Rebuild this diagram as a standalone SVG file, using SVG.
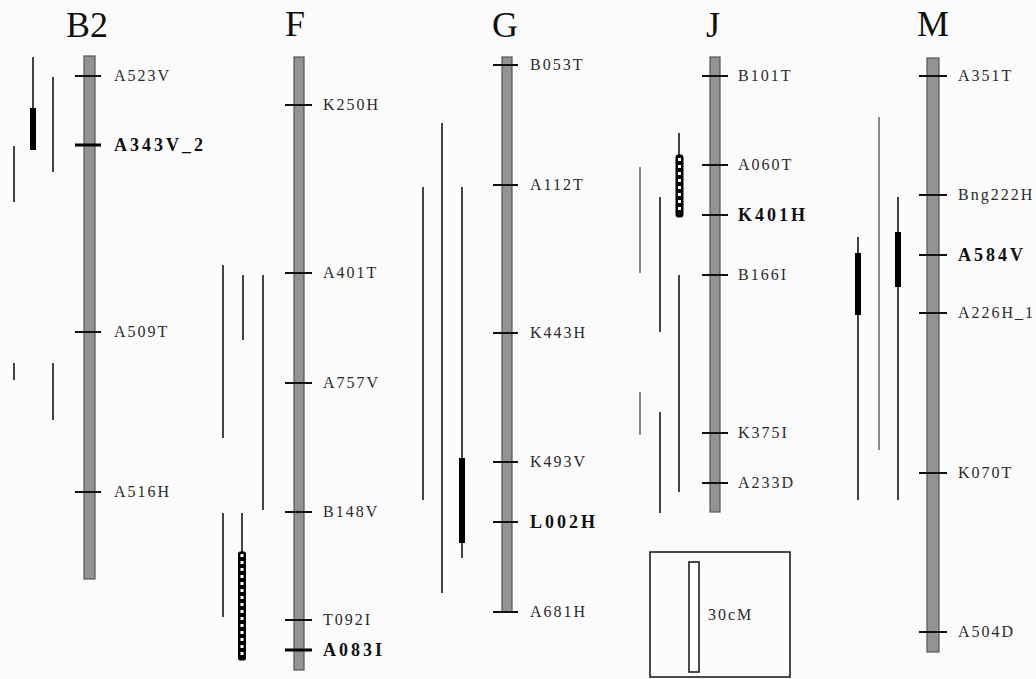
<svg xmlns="http://www.w3.org/2000/svg" width="1036" height="679" viewBox="0 0 1036 679">
<style>
.bg{fill:#fbfbfb}
.title{font-family:"Liberation Serif",serif;font-size:36px;fill:#111;text-anchor:middle}
.lab{font-family:"Liberation Serif",serif;font-size:16px;fill:#2a2a2a;letter-spacing:2px}
.bold{font-family:"Liberation Serif",serif;font-size:18px;font-weight:bold;fill:#111;letter-spacing:3px}
.bar{fill:#939393;stroke:#555;stroke-width:1.2}
.tick{stroke:#111;stroke-width:2}
.tickb{stroke:#000;stroke-width:3}
.qtl{stroke:#444;stroke-width:2;fill:none}
.qtll{stroke:#888;stroke-width:2;fill:none}
.thick{stroke:#000;stroke-width:6;fill:none}
.chk{fill:#000;stroke:#000;stroke-width:1}
.chkd{stroke:#fff;stroke-width:3;stroke-dasharray:3 4;fill:none}
</style>
<rect class="bg" x="0" y="0" width="1036" height="679"/>

<g id="chrB2">
<text class="title" x="87" y="37">B2</text>
<rect class="bar" x="84" y="56" width="11" height="523"/>
<line class="tick" x1="75" y1="76" x2="101" y2="76"/>
<line class="tickb" x1="75" y1="145" x2="101" y2="145"/>
<line class="tick" x1="75" y1="332" x2="101" y2="332"/>
<line class="tick" x1="75" y1="492" x2="101" y2="492"/>
<text class="lab" x="114" y="81">A523V</text>
<text class="bold" x="114" y="151">A343V_2</text>
<text class="lab" x="114" y="337">A509T</text>
<text class="lab" x="114" y="497">A516H</text>
</g>

<g id="chrF">
<text class="title" x="295" y="36">F</text>
<rect class="bar" x="294" y="57" width="10" height="613"/>
<line class="tick" x1="285" y1="105" x2="312" y2="105"/>
<line class="tick" x1="285" y1="273" x2="312" y2="273"/>
<line class="tick" x1="285" y1="383" x2="312" y2="383"/>
<line class="tick" x1="285" y1="512" x2="312" y2="512"/>
<line class="tick" x1="285" y1="620" x2="312" y2="620"/>
<line class="tickb" x1="285" y1="650" x2="312" y2="650"/>
<text class="lab" x="323" y="110">K250H</text>
<text class="lab" x="323" y="278">A401T</text>
<text class="lab" x="323" y="388">A757V</text>
<text class="lab" x="323" y="517">B148V</text>
<text class="lab" x="323" y="625">T092I</text>
<text class="bold" x="323" y="656">A083I</text>
</g>

<g id="chrG">
<text class="title" x="505" y="37">G</text>
<rect class="bar" x="502" y="57" width="10" height="555"/>
<line class="tick" x1="493" y1="65" x2="518" y2="65"/>
<line class="tick" x1="493" y1="185" x2="518" y2="185"/>
<line class="tick" x1="493" y1="333" x2="518" y2="333"/>
<line class="tick" x1="493" y1="462" x2="518" y2="462"/>
<line class="tick" x1="493" y1="522" x2="518" y2="522"/>
<line class="tick" x1="493" y1="612" x2="518" y2="612"/>
<text class="lab" x="530" y="70">B053T</text>
<text class="lab" x="530" y="190">A112T</text>
<text class="lab" x="530" y="338">K443H</text>
<text class="lab" x="530" y="467">K493V</text>
<text class="bold" x="530" y="528">L002H</text>
<text class="lab" x="530" y="617">A681H</text>
</g>

<g id="chrJ">
<text class="title" x="713" y="37">J</text>
<rect class="bar" x="710" y="57" width="10" height="455"/>
<line class="tick" x1="702" y1="76" x2="728" y2="76"/>
<line class="tick" x1="702" y1="165" x2="728" y2="165"/>
<line class="tick" x1="702" y1="215" x2="728" y2="215"/>
<line class="tick" x1="702" y1="275" x2="728" y2="275"/>
<line class="tick" x1="702" y1="433" x2="728" y2="433"/>
<line class="tick" x1="702" y1="483" x2="728" y2="483"/>
<text class="lab" x="738" y="81">B101T</text>
<text class="lab" x="738" y="170">A060T</text>
<text class="bold" x="738" y="221">K401H</text>
<text class="lab" x="738" y="280">B166I</text>
<text class="lab" x="738" y="438">K375I</text>
<text class="lab" x="738" y="488">A233D</text>
</g>

<g id="chrM">
<text class="title" x="933" y="36">M</text>
<rect class="bar" x="927" y="58" width="12" height="594"/>
<line class="tick" x1="919" y1="76" x2="947" y2="76"/>
<line class="tick" x1="919" y1="195" x2="947" y2="195"/>
<line class="tick" x1="919" y1="255" x2="947" y2="255"/>
<line class="tick" x1="919" y1="313" x2="947" y2="313"/>
<line class="tick" x1="919" y1="473" x2="947" y2="473"/>
<line class="tick" x1="919" y1="632" x2="947" y2="632"/>
<text class="lab" x="958" y="81">A351T</text>
<text class="lab" x="958" y="200">Bng222H</text>
<text class="bold" x="958" y="261">A584V</text>
<text class="lab" x="958" y="318">A226H_1</text>
<text class="lab" x="958" y="478">K070T</text>
<text class="lab" x="958" y="637">A504D</text>
</g>

<g id="legend">
<rect x="650" y="552" width="140" height="125" fill="none" stroke="#111" stroke-width="1.5"/>
<rect x="689" y="562" width="10" height="110" fill="#fff" stroke="#111" stroke-width="1.5"/>
<text class="lab" x="708" y="620" letter-spacing="0">30cM</text>
</g>

<g id="intervals">
<!-- B2 -->
<line class="qtl" x1="33" y1="57" x2="33" y2="150"/>
<line class="thick" x1="33" y1="108" x2="33" y2="150"/>
<line class="qtl" x1="53" y1="77" x2="53" y2="172"/>
<line class="qtl" x1="14" y1="146" x2="14" y2="202"/>
<line class="qtl" x1="14" y1="363" x2="14" y2="380"/>
<line class="qtl" x1="53" y1="363" x2="53" y2="420"/>
<!-- F -->
<line class="qtl" x1="223" y1="265" x2="223" y2="438"/>
<line class="qtl" x1="243" y1="275" x2="243" y2="340"/>
<line class="qtl" x1="263" y1="275" x2="263" y2="510"/>
<line class="qtl" x1="223" y1="513" x2="223" y2="617"/>
<line class="qtl" x1="242" y1="513" x2="242" y2="552"/>
<rect class="chk" x="238.5" y="552" width="7" height="108" rx="1.5"/>
<line class="chkd" x1="242" y1="554" x2="242" y2="658"/>
<!-- G -->
<line class="qtl" x1="423" y1="187" x2="423" y2="500"/>
<line class="qtl" x1="442" y1="123" x2="442" y2="593"/>
<line class="qtl" x1="462" y1="187" x2="462" y2="558"/>
<line class="thick" x1="462" y1="458" x2="462" y2="543"/>
<!-- J -->
<line class="qtll" x1="640" y1="167" x2="640" y2="273"/>
<line class="qtl" x1="660" y1="197" x2="660" y2="332"/>
<line class="qtl" x1="679" y1="275" x2="679" y2="492"/>
<line class="qtll" x1="640" y1="392" x2="640" y2="435"/>
<line class="qtl" x1="660" y1="412" x2="660" y2="513"/>
<line class="qtl" x1="679" y1="133" x2="679" y2="156"/>
<rect class="chk" x="676" y="155" width="7" height="62" rx="2"/>
<line class="chkd" x1="679.5" y1="158" x2="679.5" y2="214"/>
<!-- M -->
<line class="qtl" x1="858" y1="237" x2="858" y2="500"/>
<line class="thick" x1="858" y1="253" x2="858" y2="315"/>
<line class="qtll" x1="879" y1="117" x2="879" y2="450"/>
<line class="qtl" x1="898" y1="197" x2="898" y2="500"/>
<line class="thick" x1="898" y1="232" x2="898" y2="287"/>
</g>
</svg>
